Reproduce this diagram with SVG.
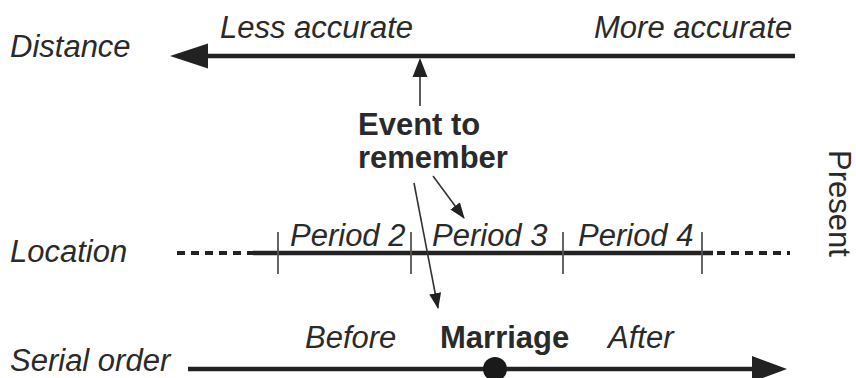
<svg xmlns="http://www.w3.org/2000/svg" width="856" height="378" viewBox="0 0 856 378">
<style>
text{font-family:"Liberation Sans",Arial,sans-serif;font-size:31px;fill:#2a2a2a}
.i{font-style:italic}
.b{font-weight:bold}
.thick{stroke:#222;stroke-width:4.5;fill:none}
.dash{stroke:#222;stroke-width:4;stroke-dasharray:8 6;fill:none}
.thin{stroke:#333;stroke-width:1.6;fill:none}
.tick{stroke:#555;stroke-width:1.8}
.head{fill:#222}
</style>
<defs>
<marker id="ah" markerWidth="16" markerHeight="12" refX="15" refY="6" orient="auto" markerUnits="userSpaceOnUse"><path d="M0,0 L16,6 L0,12 Z" fill="#222"/></marker>
</defs>
<g id="labels">
<text class="i" x="10" y="57">Distance</text>
<text class="i" x="10" y="262">Location</text>
<text class="i" x="10" y="371">Serial order</text>
<text class="i" x="220" y="38">Less accurate</text>
<text class="i" x="594" y="38">More accurate</text>
<text x="829" y="150" transform="rotate(90 829 150)">Present</text>
</g>
<g id="distance">
<line class="thick" x1="205" y1="56" x2="795" y2="56"/>
<path class="head" d="M170,56 L208,43.5 L208,68.5 Z"/>
</g>
<g id="event">
<text class="b" x="358" y="135">Event to</text>
<text class="b" x="358" y="168">remember</text>
</g>
<g id="location">
<line class="dash" x1="177" y1="253" x2="253" y2="253"/>
<line class="thick" x1="253" y1="253" x2="713" y2="253"/>
<line class="dash" x1="717" y1="253" x2="790" y2="253"/>
<line class="tick" x1="278" y1="232" x2="278" y2="274"/>
<line class="tick" x1="411" y1="232" x2="411" y2="274"/>
<line class="tick" x1="563" y1="232" x2="563" y2="274"/>
<line class="tick" x1="702" y1="232" x2="702" y2="274"/>
<text class="i" x="290" y="246">Period 2</text>
<text class="i" x="432" y="246">Period 3</text>
<text class="i" x="578" y="246">Period 4</text>
</g>
<g id="serial">
<line class="thick" x1="188" y1="369" x2="755" y2="369"/>
<path class="head" d="M787,369 L752,356 L752,382 Z"/>
<circle cx="495" cy="369" r="12" fill="#1a1a1a"/>
<text class="i" x="305" y="348">Before</text>
<text class="b" x="440" y="348">Marriage</text>
<text class="i" x="608" y="348">After</text>
</g>
<g id="connectors">
<line class="thin" x1="420" y1="106" x2="420" y2="75"/>
<path class="head" d="M420,58 L427.5,77 L412.5,77 Z"/>
<line class="thin" x1="433" y1="176" x2="464" y2="218" marker-end="url(#ah)"/>
<line class="thin" x1="414" y1="183" x2="438" y2="308" marker-end="url(#ah)"/>
</g>
</svg>
